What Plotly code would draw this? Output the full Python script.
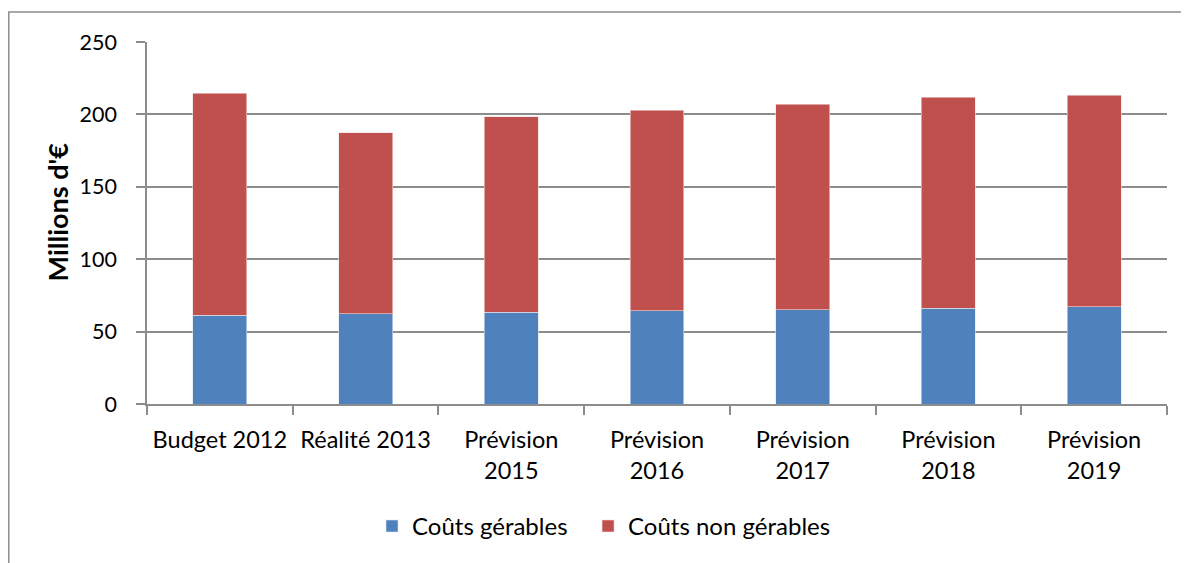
import plotly.graph_objs as go

categories = ["Budget 2012", "Réalité 2013", "Prévision<br>2015", "Prévision<br>2016",
              "Prévision<br>2017", "Prévision<br>2018", "Prévision<br>2019"]
couts_gerables = [61.4, 62.2, 63.4, 64.3, 65.2, 66.1, 67.0]
couts_non_gerables = [153.3, 125.2, 135.0, 138.5, 141.9, 145.8, 146.3]
y_ticks = [0, 50, 100, 150, 200, 250]

FONT = "Lato, 'Open Sans', sans-serif"
GRID = "#8c8c8c"

fig = go.Figure()
fig.add_trace(go.Bar(x=categories, y=couts_gerables, name="Coûts gérables", legend="legend",
                     marker=dict(color="#4F81BD", line=dict(color="#dfe6f0", width=0.6))))
fig.add_trace(go.Bar(x=categories, y=couts_non_gerables, name="Coûts non gérables", legend="legend2",
                     marker=dict(color="#C0504D", line=dict(color="#f0dcdc", width=0.6))))

leg = dict(orientation="h", xanchor="left", y=-0.338, yanchor="middle",
           font=dict(size=24), itemwidth=30, bgcolor="rgba(0,0,0,0)")

# la page html ajoute une marge de 8px autour du graphique
fig.update_layout(
    width=1181, height=555,
    barmode="stack", bargap=0.63,
    plot_bgcolor="white", paper_bgcolor="white",
    margin=dict(l=139, r=22, t=34, b=159, autoexpand=False),
    font=dict(family=FONT, size=24, color="black"),
    legend=dict(leg, x=0.2206),
    legend2=dict(leg, x=0.4324),
    showlegend=True,
)
fig.update_xaxes(showline=True, linecolor=GRID, linewidth=1.5,
                 ticks="outside", tickson="boundaries", ticklen=9, tickcolor=GRID,
                 tickwidth=1.5, showgrid=False, ticklabelstandoff=14,
                 tickangle=0, tickfont=dict(size=23.5))
fig.update_yaxes(range=[0, 250], tickvals=y_ticks, showgrid=True, gridcolor=GRID,
                 gridwidth=1.5, showline=True, linecolor=GRID, linewidth=1.5,
                 ticks="outside", ticklen=9, tickcolor=GRID, tickwidth=1.5,
                 ticklabelstandoff=15, zeroline=False, tickfont=dict(size=21.5))

# titre de l'axe Y
fig.add_annotation(text="<b>Millions d'€</b>", textangle=-90, xref="paper", yref="paper",
                   x=-0.088, xanchor="center", y=0.53, yanchor="middle", showarrow=False,
                   font=dict(size=27, family=FONT))

# cadre du graphique
fig.add_shape(type="rect", xref="paper", yref="paper", x0=-0.1355, x1=1.1, y0=-0.6, y1=1.0829,
              line=dict(color=GRID, width=1.5), layer="below")

fig.write_html("out.html")
